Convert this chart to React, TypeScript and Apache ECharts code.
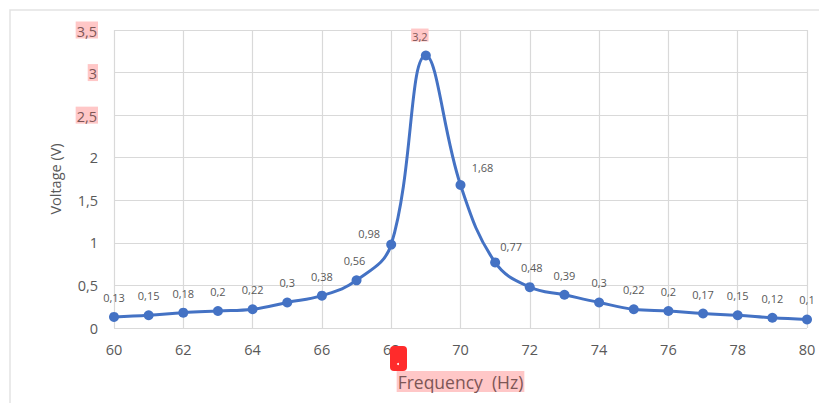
import React, { useEffect, useRef } from "react";
import * as echarts from "echarts";

const frequencies = [60, 61, 62, 63, 64, 65, 66, 67, 68, 69, 70, 71, 72, 73, 74, 75, 76, 77, 78, 79, 80];
const voltages = [0.13, 0.15, 0.18, 0.2, 0.22, 0.3, 0.38, 0.56, 0.98, 3.2, 1.68, 0.77, 0.48, 0.39, 0.3, 0.22, 0.2, 0.17, 0.15, 0.12, 0.1];
const highlightedYTicks = [2.5, 3, 3.5];
const highlightedPoint = 3.2;
const xAxisTitle = "Frequency  (Hz)";
const yAxisTitle = "Voltage (V)";

const labelOffsets: Record<number, [number, number]> = {
  67: [-2, 0],
  68: [-22, 8],
  69: [-6, 0],
  70: [22, 2],
  71: [16, 4],
  72: [2, 0],
};

const comma = (v: number) => String(v).replace(".", ",");

export default function App() {
  const ref = useRef<HTMLDivElement>(null);
  useEffect(() => {
    if (!ref.current) return;
    const chart = echarts.init(ref.current, null, { renderer: "svg" });
    chart.setOption({
      animation: false,
      textStyle: { fontFamily: "Open Sans, Noto Sans, sans-serif" },
      grid: { left: 114, right: 12, top: 30, bottom: 75 },
      graphic: [
        {
          type: "rect",
          shape: { x: 10, y: 10, width: 840, height: 420 },
          style: { fill: "none", stroke: "#e3e3e3", lineWidth: 1.5 },
          silent: true,
          z: -10,
        },
        {
          type: "rect",
          shape: { x: 390, y: 346, width: 17, height: 25, r: 4 },
          style: { fill: "#ff2b2b" },
          z: 100,
        },
        {
          type: "circle",
          shape: { cx: 398, cy: 364, r: 1 },
          style: { fill: "#ffffff" },
          z: 101,
        },
      ],
      xAxis: {
        type: "value",
        min: 60,
        max: 80,
        interval: 2,
        name: xAxisTitle,
        nameLocation: "middle",
        nameGap: 43,
        nameTextStyle: {
          fontSize: 17.5,
          color: "#7d5656",
          backgroundColor: "#ffc7c7",
          padding: [2, 1, 1, 1],
        },
        axisLine: { show: false },
        axisTick: { show: false },
        axisLabel: { fontSize: 14.5, color: "#595959", margin: 14 },
        splitLine: { show: true, lineStyle: { color: "#d9d9d9", width: 1.2 } },
      },
      yAxis: {
        type: "value",
        min: 0,
        max: 3.5,
        interval: 0.5,
        name: yAxisTitle,
        nameLocation: "middle",
        nameGap: 51,
        nameTextStyle: { fontSize: 14.5, color: "#595959" },
        axisLine: { show: false },
        axisTick: { show: false },
        axisLabel: {
          fontSize: 14.5,
          color: "#595959",
          margin: 16,
          formatter: (v: number) =>
            highlightedYTicks.includes(v) ? `{hl|${comma(v)}}` : `{n|${comma(v)}}`,
          rich: {
            hl: {
              backgroundColor: "#ffc7c7",
              color: "#7d5656",
              fontSize: 14.5,
              padding: [2, 1, 0, 1],
            },
            n: { color: "#595959", fontSize: 14.5 },
          },
        },
        splitLine: { show: true, lineStyle: { color: "#d9d9d9", width: 1.2 } },
      },
      series: [
        {
          type: "line",
          smooth: 0.4,
          data: frequencies.map((f, i) => {
            const v = voltages[i];
            const item: any = { value: [f, v] };
            if (labelOffsets[f]) item.label = { offset: labelOffsets[f] };
            return item;
          }),
          symbol: "circle",
          symbolSize: 10,
          lineStyle: { color: "#4472c4", width: 3 },
          itemStyle: { color: "#4472c4" },
          label: {
            show: true,
            position: "top",
            distance: 9,
            fontSize: 11,
            color: "#595959",
            textBorderWidth: 0,
            formatter: (p: any) => {
              const v = p.value[1];
              return v === highlightedPoint ? `{hl|${comma(v)}}` : `{n|${comma(v)}}`;
            },
            rich: {
              hl: {
                backgroundColor: "#ffc7c7",
                color: "#7d5656",
                fontSize: 11,
                padding: [2, 1, 0, 1],
              },
              n: { color: "#595959", fontSize: 11 },
            },
          },
        },
      ],
    });
    return () => chart.dispose();
  }, []);
  return (
    <div
      ref={ref}
      style={{ position: "absolute", left: 0, top: 0, width: 819, height: 403 }}
    />
  );
}
